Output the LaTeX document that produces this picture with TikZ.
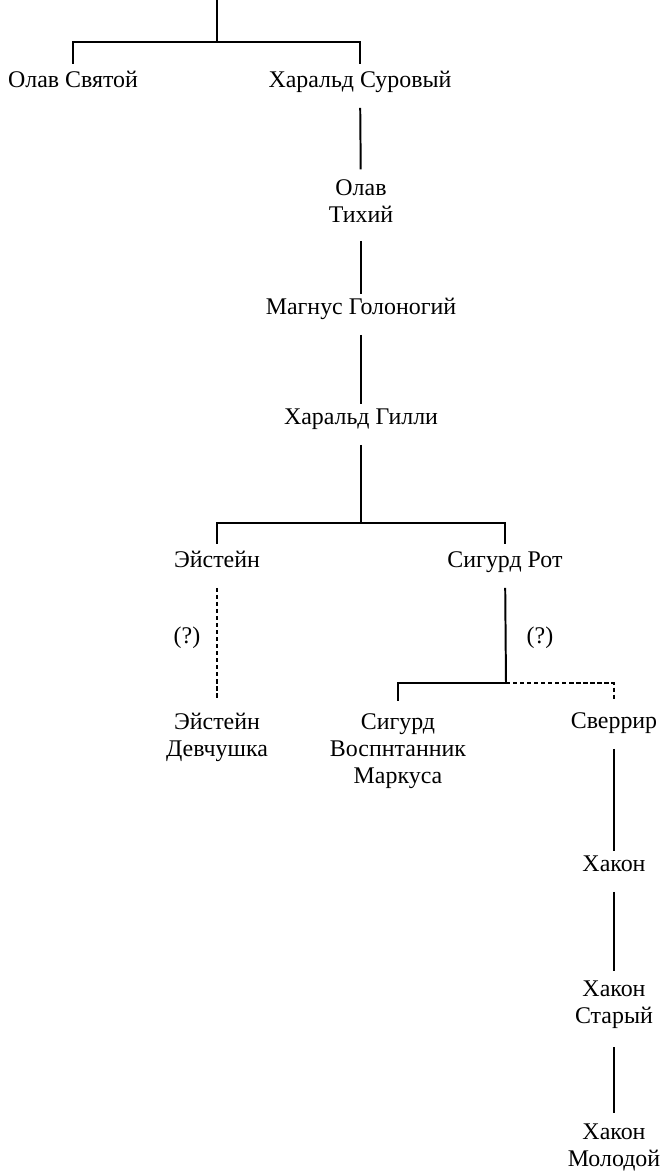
\documentclass[tikz,border=0pt]{standalone}
\usepackage{fontspec}
\setmainfont{Liberation Serif}

\begin{document}
\begin{tikzpicture}[x=0.025cm, y=-0.025cm,
    person/.style={inner sep=0pt, align=center, font=\fontsize{17pt}{19.2pt}\selectfont},
    single/.style={person, text height=0.76em, text depth=0.14em},
    tree/.style={line width=1.4pt},
    doubt/.style={line width=1.4pt, dash pattern=on 3pt off 2pt},
    link/.style={tree, shorten <=13pt, shorten >=7pt}]
    \useasboundingbox (0,0) rectangle (666,1173);

    % Hijos del primer rey
    \coordinate (top) at (217,0);
    \coordinate (j1)  at (217,42);
    \node[single] (os) at (73,83)  {Олав Святой};
    \node[single] (hs) at (360,83) {Харальд Суровый};
    \draw[tree] (top) -- (j1);
    \draw[tree, shorten <=9pt, shorten >=9pt] (os.north) |- (j1) -| (hs.north);

    % Linea principal
    \node[person] (ot) at (361,201) {Олав\\Тихий};
    \node[single] (mg) at (361,310) {Магнус Голоногий};
    \node[single] (hg) at (361,420) {Харальд Гилли};
    \draw[link] (hs) -- (ot);
    \draw[link] (ot) -- (mg);
    \draw[link] (mg) -- (hg);

    % Hijos de Harald Gille
    \coordinate (j2) at (361,523);
    \node[single] (ei) at (217,563) {Эйстейн};
    \node[single] (sr) at (505,563) {Сигурд Рот};
    \draw[tree, shorten <=13pt] (hg) -- (j2);
    \draw[tree, shorten <=9pt, shorten >=9pt] (ei.north) |- (j2) -| (sr.north);

    % Descendencia dudosa
    \node[person] (ed) at (217,737) {Эйстейн\\Девчушка};
    \node[person] (sm) at (398,751) {Сигурд\\Воспнтанник\\Маркуса};
    \node[single] (sw) at (614,724) {Сверрир};
    \node[single] (q1) at (187,639) {(?)};
    \node[single] (q2) at (540,639) {(?)};
    \coordinate (j3) at (506,683);
    \draw[doubt, shorten <=13pt, shorten >=9pt] (ei) -- (ed);
    \draw[tree, shorten <=13pt] (sr) -- (j3);
    \draw[tree, shorten >=9pt] (j3) -| (sm.north);
    \draw[doubt, shorten >=13pt] (j3) -| (sw.north);

    % Linea de Sverrir
    \node[single] (h1) at (614,867)  {Хакон};
    \node[person] (h2) at (614,1005) {Хакон\\Старый};
    \node[person] (h3) at (614,1147) {Хакон\\Молодой};
    \draw[link] (sw) -- (h1);
    \draw[link] (h1) -- (h2);
    \draw[link] (h2) -- (h3);
\end{tikzpicture}
\end{document}
